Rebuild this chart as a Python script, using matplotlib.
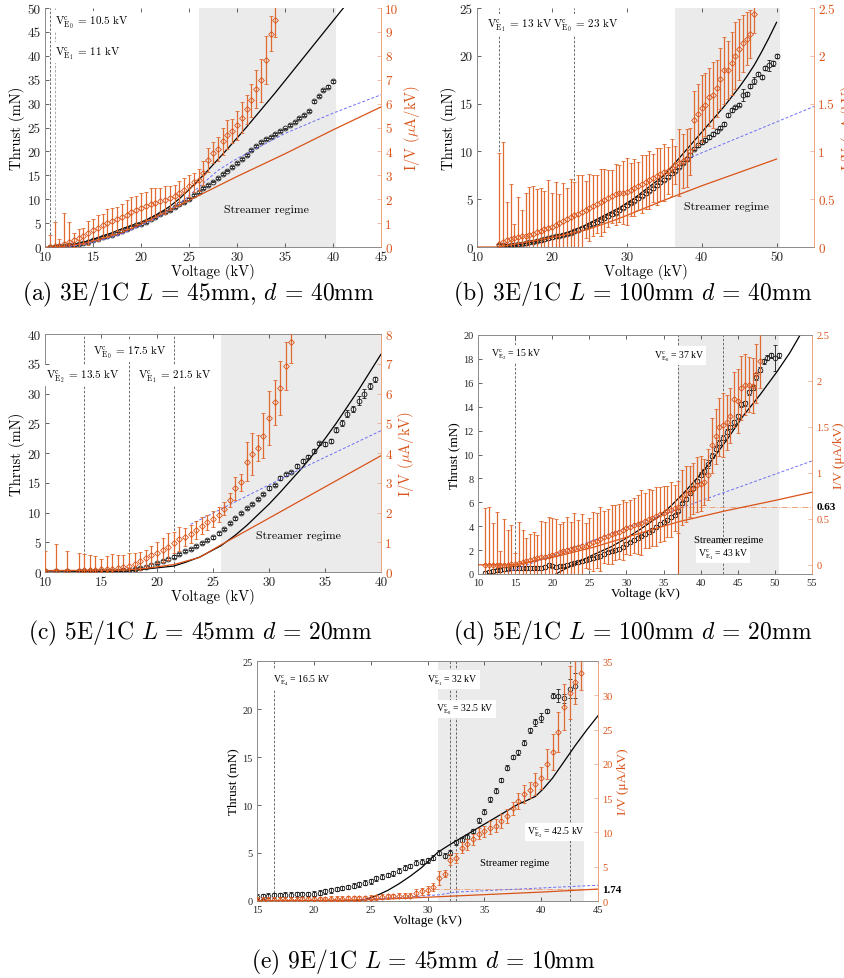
import matplotlib.pyplot as plt
from matplotlib.ticker import FuncFormatter

plt.rcParams['font.family'] = 'cmr10'
plt.rcParams['mathtext.fontset'] = 'cm'
plt.rcParams['axes.formatter.use_mathtext'] = True

ORANGE = '#D95319'
ORANGE_BAR = '#E06A30'
ORANGE_SPINE = '#EBA37E'
BLUE = '#6E6EF5'
SHADE = '#EBEBEB'

# ---------------- (a) 3E/1C L=45mm d=40mm ----------------
a_v_thrust = [10.5, 11, 11.5, 12, 12.5, 13, 13.5, 14, 14.5, 15, 15.5, 16, 16.5, 17, 17.5,
              18, 18.5, 19, 19.5, 20, 20.5, 21, 21.5, 22, 22.5, 23, 23.5, 24, 24.5, 25,
              25.5, 26, 26.5, 27, 27.5, 28, 28.5, 29, 29.5, 30, 30.5, 31, 31.5, 32, 32.5,
              33, 33.5, 34, 34.5, 35, 35.5, 36, 36.5, 37, 37.5, 38, 38.5, 39, 39.5, 40]
a_thrust = [0.1, 0.1, 0.2, 0.3, 0.4, 0.5, 0.7, 0.9, 1.1, 1.4, 1.7, 2.0, 2.3, 2.6, 2.9,
            3.3, 3.7, 4.1, 4.5, 4.9, 5.3, 5.8, 6.3, 6.8, 7.3, 7.8, 8.3, 8.9, 9.5, 10.1,
            10.8, 11.6, 12.3, 13.0, 13.7, 14.4, 15.2, 16.0, 16.7, 17.5, 18.4, 19.3, 20.2, 21.2, 22.0,
            22.5, 23.0, 23.6, 24.2, 24.8, 25.6, 26.2, 27.0, 27.6, 28.5, 30.5, 31.5, 32.8, 33.5, 34.7]
a_thrust_err = [0.2, 0.2, 0.2, 0.2, 0.2, 0.2, 0.2, 0.2, 0.2, 0.2, 0.2, 0.2, 0.2, 0.2, 0.2,
                0.2, 0.2, 0.2, 0.2, 0.2, 0.2, 0.2, 0.2, 0.2, 0.2, 0.2, 0.2, 0.2, 0.2, 0.2,
                0.2, 0.2, 0.2, 0.2, 0.2, 0.2, 0.2, 0.2, 0.2, 0.2, 0.2, 0.2, 0.2, 0.2, 0.2,
                0.2, 0.2, 0.2, 0.2, 0.2, 0.2, 0.2, 0.2, 0.2, 0.2, 0.3, 0.2, 0.2, 0.3, 0.3]
a_v_iv = [10.5, 11, 11.5, 12, 12.5, 13, 13.5, 14, 14.5, 15, 15.5, 16, 16.5, 17, 17.5, 18,
          18.5, 19, 19.5, 20, 20.5, 21, 21.5, 22, 22.5, 23, 23.5, 24, 24.5, 25, 25.5, 26,
          26.5, 27, 27.5, 28, 28.5, 29, 29.5, 30, 30.5, 31, 31.5, 32, 32.5, 33, 33.5, 34]
a_iv = [0.02, 0.03, 0.05, 0.12, 0.2, 0.28, 0.37, 0.46, 0.6, 0.73, 0.8, 0.9, 1.0, 1.1, 1.18, 1.25,
        1.35, 1.45, 1.55, 1.65, 1.72, 1.8, 1.86, 1.92, 1.97, 2.05, 2.15, 2.25, 2.38, 2.55, 2.7, 2.8,
        3.1, 3.63, 3.95, 4.11, 4.42, 4.7, 4.85, 5.09, 5.4, 5.76, 6.14, 6.6, 6.97, 7.81, 8.93, 9.48]
a_iv_err = [0.5, 1.0, 0.3, 1.3, 0.85, 0.3, 0.4, 0.35, 0.5, 0.45, 0.55, 0.5, 0.6, 0.55, 0.5, 0.55,
            0.6, 0.65, 0.6, 0.6, 0.6, 0.65, 0.6, 0.55, 0.6, 0.5, 0.45, 0.5, 0.5, 0.45, 0.4, 0.45,
            0.5, 0.5, 0.45, 0.5, 0.55, 0.6, 0.5, 0.6, 0.65, 0.6, 0.7, 0.8, 0.9, 1.0, 0.75, 0.7]
a_model_v = [11, 12, 13, 14, 15, 16, 17, 18, 19, 20, 21, 22, 23, 24, 25, 26, 27, 28, 29,
             30, 31, 32, 33, 34, 35, 36, 37, 38, 39, 40, 41, 41.5]
a_model_thrust = [0, 0.1, 0.5, 1.0, 1.6, 2.3, 3.0, 3.8, 4.5, 5.2, 6.1, 7.2, 8.5, 10.1, 12.0,
                  14.0, 16.1, 18.3, 20.5, 22.8, 25.1, 27.5, 29.9, 32.3, 34.8, 37.3, 39.8,
                  42.3, 44.8, 47.3, 49.8, 51.0]
a_model_iv_v = [10, 11, 12, 14, 16, 18, 20, 22, 24, 26, 28, 30, 35, 40, 45]
a_model_iv = [0, 0, 0.02, 0.15, 0.35, 0.6, 0.95, 1.35, 1.75, 2.15, 2.55, 2.95, 3.9, 4.9, 5.86]
a_blue_v = [12, 14, 16, 18, 20, 22, 24, 26, 28, 30, 35, 40, 45]
a_blue_iv = [0, 0.1, 0.3, 0.55, 0.9, 1.3, 1.8, 2.5, 3.2, 3.7, 4.75, 5.6, 6.37]
a_onset = [10.5, 11]
a_streamer = [26, 40.3]

# ---------------- (b) 3E/1C L=100mm d=40mm ----------------
b_v_thrust = [13, 13.5, 14, 14.5, 15, 15.5, 16, 16.5, 17, 17.5,
              18, 18.5, 19, 19.5, 20, 20.5, 21, 21.5, 22, 22.5,
              23, 23.5, 24, 24.5, 25, 25.5, 26, 26.5, 27, 27.5,
              28, 28.5, 29, 29.5, 30, 30.5, 31, 31.5, 32, 32.5,
              33, 33.5, 34, 34.5, 35, 35.5, 36, 36.5, 37, 37.5,
              38, 38.5, 39, 39.5, 40, 40.5, 41, 41.5, 42, 42.5,
              43, 43.5, 44, 44.5, 45, 45.5, 46, 46.5, 47, 47.5,
              48, 48.5, 49, 49.5, 50]
b_thrust = [0.2, 0.2, 0.15, 0.2, 0.25, 0.3, 0.35, 0.4, 0.5, 0.55,
            0.65, 0.7, 0.8, 0.9, 1.0, 1.1, 1.2, 1.3, 1.4, 1.5,
            1.65, 1.8, 1.95, 2.1, 2.3, 2.45, 2.6, 2.8, 3.0, 3.2,
            3.4, 3.6, 3.85, 4.1, 4.35, 4.6, 4.85, 5.1, 5.35, 5.6,
            5.9, 6.15, 6.45, 6.75, 7.05, 7.35, 7.7, 8.0, 8.4, 8.8,
            9.2, 9.6, 10.3, 10.7, 11.0, 11.2, 11.5, 11.8, 12.1, 12.5,
            12.9, 13.8, 14.3, 14.6, 14.9, 15.9, 16.0, 16.8, 17.4, 18.1,
            17.8, 18.7, 19.0, 19.2, 20.0]
b_thrust_err = [0.15, 0.15, 0.15, 0.15, 0.15, 0.15, 0.15, 0.15, 0.15, 0.15,
                0.15, 0.15, 0.15, 0.15, 0.15, 0.15, 0.15, 0.15, 0.15, 0.15,
                0.15, 0.15, 0.15, 0.15, 0.15, 0.15, 0.15, 0.15, 0.15, 0.15,
                0.15, 0.15, 0.15, 0.15, 0.15, 0.15, 0.15, 0.15, 0.15, 0.15,
                0.15, 0.15, 0.15, 0.15, 0.15, 0.15, 0.15, 0.15, 0.15, 0.15,
                0.2, 0.2, 0.2, 0.2, 0.2, 0.2, 0.2, 0.2, 0.2, 0.2,
                0.2, 0.2, 0.2, 0.2, 0.2, 0.6, 0.2, 0.2, 0.4, 0.2,
                0.2, 0.2, 0.55, 0.3, 0.2]
b_v_iv = [13, 13.5, 14, 14.5, 15, 15.5, 16, 16.5, 17, 17.5,
          18, 18.5, 19, 19.5, 20, 20.5, 21, 21.5, 22, 22.5,
          23, 23.5, 24, 24.5, 25, 25.5, 26, 26.5, 27, 27.5,
          28, 28.5, 29, 29.5, 30, 30.5, 31, 31.5, 32, 32.5,
          33, 33.5, 34, 34.5, 35, 35.5, 36, 36.5, 37, 37.5,
          38, 38.5, 39, 39.5, 40, 40.5, 41, 41.5, 42, 42.5,
          43, 43.5, 44, 44.5, 45, 45.5, 46, 46.5, 47]
b_iv = [0.03, 0.05, 0.07, 0.08, 0.09, 0.1, 0.11, 0.12, 0.13, 0.14,
        0.16, 0.17, 0.19, 0.2, 0.21, 0.23, 0.25, 0.27, 0.29, 0.31,
        0.33, 0.35, 0.37, 0.39, 0.41, 0.43, 0.45, 0.47, 0.49, 0.51,
        0.53, 0.55, 0.56, 0.57, 0.58, 0.6, 0.62, 0.64, 0.66, 0.68,
        0.7, 0.72, 0.74, 0.76, 0.78, 0.8, 0.83, 0.86, 0.88, 0.9,
        0.93, 1.0, 1.33, 1.39, 1.45, 1.49, 1.57, 1.59, 1.66, 1.76,
        1.85, 1.85, 1.92, 2.0, 2.07, 2.13, 2.18, 2.23, 2.44]
b_iv_err = [0.95, 1.05, 0.4, 0.58, 0.15, 0.42, 0.28, 0.45, 0.5, 0.5,
            0.45, 0.45, 0.4, 0.5, 0.35, 0.45, 0.3, 0.4, 0.33, 0.4,
            0.35, 0.4, 0.38, 0.3, 0.35, 0.32, 0.3, 0.35, 0.33, 0.3,
            0.28, 0.32, 0.3, 0.33, 0.35, 0.28, 0.3, 0.25, 0.3, 0.28,
            0.3, 0.25, 0.3, 0.28, 0.3, 0.25, 0.3, 0.2, 0.35, 0.28,
            0.3, 0.25, 0.3, 0.32, 0.35, 0.33, 0.3, 0.35, 0.3, 0.32,
            0.35, 0.3, 0.33, 0.35, 0.32, 0.3, 0.28, 0.25, 0.2]
b_model_v = [13, 14, 15, 16, 17, 18, 19, 20, 21, 22, 23, 24, 25, 26, 27, 28, 29, 30, 31, 32,
             33, 34, 35, 36, 37, 38, 39, 40, 41, 42, 43, 44, 45, 46, 47, 48, 49, 50]
b_model_thrust = [0, 0.05, 0.15, 0.3, 0.45, 0.6, 0.8, 1.0, 1.25, 1.5, 1.8, 2.1, 2.5, 2.9, 3.3,
                  3.7, 4.1, 4.6, 5.1, 5.7, 6.3, 6.9, 7.5, 8.4, 9.3, 10.2, 11.1, 12.0, 12.9,
                  13.8, 14.7, 15.7, 16.7, 17.8, 19.0, 20.4, 21.9, 23.5]
b_model_iv_v = [10, 13, 15, 18, 20, 23, 25, 28, 30, 35, 40, 45, 50]
b_model_iv = [0, 0, 0.03, 0.07, 0.1, 0.15, 0.19, 0.27, 0.33, 0.49, 0.64, 0.78, 0.92]
b_blue_v = [38, 55]
b_blue_iv = [0.92, 1.47]
b_onset = [13, 23]
b_streamer = [36.4, 50.4]

# ---------------- (c) 5E/1C L=45mm d=20mm ----------------
c_v_thrust = [10, 11, 12, 13, 13.5, 14, 14.5, 15, 15.5, 16, 16.5, 17, 17.5,
              18, 18.5, 19, 19.5, 20, 20.5, 21, 21.5, 22, 22.5,
              23, 23.5, 24, 24.5, 25, 25.5, 26, 26.5, 27, 27.5,
              28, 28.5, 29, 29.5, 30, 30.5, 31, 31.5, 32, 32.5,
              33, 33.5, 34, 34.5, 35, 35.5, 36, 36.5, 37, 37.5,
              38, 38.5, 39, 39.5]
c_thrust = [0.2, 0.2, 0.2, 0.2, 0.2, 0.2, 0.2, 0.2, 0.2, 0.2, 0.2, 0.3, 0.3,
            0.45, 0.6, 0.8, 1.1, 1.5, 1.9, 2.2, 2.6, 3.0, 3.5,
            3.9, 4.4, 4.9, 5.4, 5.8, 6.5, 7.2, 8.2, 9.0, 9.9,
            10.8, 11.4, 12.3, 13.1, 14.1, 14.6, 15.8, 16.4, 16.8, 17.8,
            18.7, 19.4, 20.3, 21.6, 21.5, 22.0, 23.9, 25.0, 26.6, 27.4,
            28.8, 30.0, 31.2, 32.4]
c_thrust_err = [0.2, 0.2, 0.2, 0.2, 0.2, 0.2, 0.2, 0.2, 0.2, 0.2, 0.2, 0.2, 0.2,
                0.2, 0.2, 0.2, 0.2, 0.2, 0.2, 0.2, 0.2, 0.2, 0.2,
                0.2, 0.2, 0.2, 0.2, 0.2, 0.2, 0.2, 0.2, 0.2, 0.2,
                0.2, 0.2, 0.2, 0.2, 0.3, 0.2, 0.3, 0.3, 0.2, 0.3,
                0.3, 0.3, 0.3, 0.3, 0.3, 0.3, 0.4, 0.5, 0.6, 0.5,
                0.7, 0.8, 0.5, 0.4]
c_v_iv = [10, 11, 12, 13, 13.5, 14, 14.5, 15, 15.5, 16, 16.5, 17, 17.5,
          18, 18.5, 19, 19.5, 20, 20.5, 21, 21.5, 22, 22.5,
          23, 23.5, 24, 24.5, 25, 25.5, 26, 26.5, 27, 27.5,
          28, 28.5, 29, 29.5, 30, 30.5, 31, 31.5, 32]
c_iv = [0.05, 0.05, 0.05, 0.05, 0.06, 0.07, 0.08, 0.09, 0.1, 0.11, 0.13, 0.16, 0.2,
        0.28, 0.38, 0.47, 0.56, 0.65, 0.75, 0.85, 0.98, 1.1, 1.18,
        1.27, 1.42, 1.56, 1.67, 1.78, 1.93, 2.12, 2.42, 2.81, 3.01,
        3.71, 3.97, 4.17, 4.58, 5.17, 5.7, 6.18, 6.93, 7.74]
c_iv_err = [0.65, 0.9, 0.65, 0.6, 0.55, 0.5, 0.45, 0.35, 0.45, 0.5, 0.45, 0.4, 0.45,
            0.35, 0.3, 0.28, 0.3, 0.35, 0.4, 0.45, 0.35, 0.4, 0.3,
            0.3, 0.3, 0.28, 0.25, 0.28, 0.25, 0.22, 0.25, 0.4, 0.3,
            0.65, 0.7, 0.45, 0.75, 0.9, 0.75, 0.9, 0.8, 0.7]
c_model_v = [10, 17, 19, 21.5, 22.5, 23.8, 25.7, 27, 28, 29, 30, 31, 32, 33, 34, 35, 36,
             37, 38, 39, 40]
c_model_thrust = [0, 0.1, 0.5, 1.0, 1.6, 2.5, 4.4, 6.2, 7.8, 9.6, 11.4, 13.4, 15.5, 17.6,
                  19.9, 22.4, 25.0, 27.8, 30.6, 33.6, 36.6]
c_model_iv_v = [10, 17, 19, 21.5, 23.8, 25.7, 30, 35, 40]
c_model_iv = [0.05, 0.06, 0.12, 0.25, 0.49, 0.91, 1.81, 2.86, 3.91]
c_blue_v = [23, 32.8, 40]
c_blue_iv = [1.6, 3.46, 4.75]
c_onset = [13.5, 17.5, 21.5]
c_streamer = [25.7, 40]

# ---------------- (d) 5E/1C L=100mm d=20mm ----------------
d_v_thrust = [11, 11.5, 12, 12.5, 13, 13.5, 14, 14.5, 15, 15.5,
              16, 16.5, 17, 17.5, 18, 18.5, 19, 19.5, 20, 20.5,
              21, 21.5, 22, 22.5, 23, 23.5, 24, 24.5, 25, 25.5,
              26, 26.5, 27, 27.5, 28, 28.5, 29, 29.5, 30, 30.5,
              31, 31.5, 32, 32.5, 33, 33.5, 34, 34.5, 35, 35.5,
              36, 36.5, 37, 37.5, 38, 38.5, 39, 39.5, 40, 40.5,
              41, 41.5, 42, 42.5, 43, 43.5, 44, 44.5, 45, 45.5,
              46, 46.5, 47, 47.5, 48, 48.5, 49, 49.5, 50, 50.5]
d_thrust = [0.1, 0.2, 0.25, 0.3, 0.35, 0.4, 0.45, 0.5, 0.5, 0.5,
            0.5, 0.5, 0.5, 0.5, 0.5, 0.5, 0.6, 0.75, 0.7, 0.6,
            0.65, 0.7, 0.75, 0.85, 0.95, 1.0, 1.05, 1.15, 1.25, 1.3,
            1.4, 1.5, 1.65, 1.8, 1.9, 2.0, 2.1, 2.25, 2.5, 2.65,
            2.85, 3.0, 3.15, 3.35, 3.5, 3.7, 3.95, 4.2, 4.35, 4.5,
            4.75, 4.9, 5.3, 5.9, 6.3, 6.8, 7.2, 7.8, 8.3, 8.6,
            9.2, 9.9, 10.5, 11.0, 11.4, 11.9, 12.3, 12.7, 13.2, 14.2,
            14.3, 15.2, 15.6, 16.5, 17.1, 17.8, 18.1, 18.3, 18.1, 18.3]
d_thrust_err = [0.15, 0.15, 0.15, 0.15, 0.15, 0.15, 0.15, 0.15, 0.15, 0.15,
                0.15, 0.15, 0.15, 0.15, 0.15, 0.15, 0.15, 0.15, 0.15, 0.15,
                0.15, 0.15, 0.15, 0.15, 0.15, 0.15, 0.15, 0.15, 0.15, 0.15,
                0.15, 0.15, 0.15, 0.15, 0.15, 0.15, 0.15, 0.15, 0.15, 0.15,
                0.15, 0.15, 0.15, 0.15, 0.15, 0.15, 0.15, 0.15, 0.15, 0.15,
                0.15, 0.15, 0.15, 0.15, 0.15, 0.15, 0.15, 0.15, 0.2, 0.2,
                0.35, 0.2, 0.2, 0.2, 0.2, 0.2, 0.2, 0.2, 0.2, 0.2,
                0.2, 0.2, 0.2, 0.3, 0.2, 0.2, 0.2, 0.2, 1.1, 0.2]
d_v_iv = [11, 11.5, 12, 12.5, 13, 13.5, 14, 14.5, 15, 15.5,
          16, 16.5, 17, 17.5, 18, 18.5, 19, 19.5, 20, 20.5,
          21, 21.5, 22, 22.5, 23, 23.5, 24, 24.5, 25, 25.5,
          26, 26.5, 27, 27.5, 28, 28.5, 29, 29.5, 30, 30.5,
          31, 31.5, 32, 32.5, 33, 33.5, 34, 34.5, 35, 35.5,
          36, 36.5, 37, 37.5, 38, 38.5, 39, 39.5, 40, 40.5,
          41, 41.5, 42, 42.5, 43, 43.5, 44, 44.5, 45, 45.5,
          46, 46.5, 47, 47.5, 48]
d_iv = [0.0, 0.0, 0.0, 0.0, 0.0, 0.0, 0.0, 0.01, 0.01, 0.02,
        0.03, 0.04, 0.05, 0.06, 0.07, 0.08, 0.09, 0.1, 0.11, 0.12,
        0.14, 0.15, 0.16, 0.17, 0.18, 0.19, 0.2, 0.21, 0.23, 0.25,
        0.26, 0.28, 0.3, 0.31, 0.33, 0.35, 0.36, 0.38, 0.4, 0.41,
        0.43, 0.44, 0.46, 0.48, 0.5, 0.51, 0.53, 0.55, 0.56, 0.58,
        0.6, 0.62, 0.63, 0.73, 0.77, 0.8, 0.83, 0.87, 0.88, 0.9,
        0.98, 1.3, 1.4, 1.5, 1.52, 1.55, 1.62, 1.8, 1.78, 1.92,
        1.96, 1.96, 1.95, 2.08, 2.22]
d_iv_err = [0.62, 0.63, 0.45, 0.57, 0.15, 0.5, 0.38, 0.42, 0.12, 0.45,
            0.35, 0.25, 0.28, 0.3, 0.25, 0.4, 0.38, 0.42, 0.4, 0.38,
            0.3, 0.32, 0.36, 0.3, 0.38, 0.3, 0.35, 0.25, 0.28, 0.32,
            0.3, 0.35, 0.28, 0.3, 0.32, 0.3, 0.3, 0.33, 0.28, 0.3,
            0.3, 0.32, 0.35, 0.3, 0.32, 0.3, 0.32, 0.3, 0.3, 0.28,
            0.3, 0.25, 0.28, 0.3, 0.3, 0.28, 0.28, 0.3, 0.3, 0.25,
            0.28, 0.3, 0.3, 0.32, 0.35, 0.3, 0.3, 0.3, 0.35, 0.35,
            0.33, 0.3, 0.3, 0.32, 0.3]
d_model_v = [20.5, 21.5, 23, 25.5, 28, 30, 32, 34.5, 36, 37.8, 39.5, 41.3, 43.5, 45.75, 48,
             50.25, 52, 53.4]
d_model_thrust = [0, 0.35, 0.85, 1.6, 2.3, 3.0, 3.8, 4.88, 5.7, 6.83, 8.0, 9.35, 11.2, 13.25,
                  15.0, 16.9, 18.5, 20.0]
d_model_iv_v = [10, 15, 21, 25.5, 30, 37.1, 43.5, 50, 55]
d_model_iv = [0, 0, 0.1, 0.19, 0.3, 0.47, 0.59, 0.7, 0.79]
d_blue_v = [14, 20, 25, 30, 37, 45, 55]
d_blue_iv = [-0.08, 0.1, 0.25, 0.4, 0.61, 0.84, 1.13]
d_onset = [15, 37, 43]
d_streamer = [37, 50.5]
d_ratio = 0.63

# ---------------- (e) 9E/1C L=45mm d=10mm ----------------
e_v_thrust = [15, 15.5, 16, 16.5, 17, 17.5, 18, 18.5, 19, 19.5,
              20, 20.5, 21, 21.5, 22, 22.5, 23, 23.5, 24, 24.5,
              25, 25.5, 26, 26.5, 27, 27.5, 28, 28.5, 29, 29.5,
              30, 30.5, 31, 31.5, 32, 32.5, 33, 33.5, 34, 34.5,
              35, 35.5, 36, 36.5, 37, 37.5, 38, 38.5, 39, 39.5,
              40, 40.5, 41, 41.5, 42, 42.5, 43]
e_thrust = [0.45, 0.5, 0.55, 0.6, 0.62, 0.65, 0.66, 0.68, 0.7, 0.72,
            0.75, 0.85, 1.0, 1.1, 1.25, 1.35, 1.45, 1.6, 1.75, 1.9,
            2.05, 2.35, 2.55, 2.7, 2.9, 3.15, 3.45, 3.65, 4.0, 4.1,
            4.25, 4.5, 5.05, 4.7, 5.05, 6.1, 6.4, 6.7, 7.3, 8.4,
            9.3, 10.6, 11.5, 12.6, 13.9, 15.0, 15.5, 16.5, 17.8, 18.6,
            19.1, 19.8, 21.4, 21.4, 21.1, 22.1, 22.4]
e_thrust_err = [0.25, 0.25, 0.25, 0.25, 0.25, 0.25, 0.25, 0.25, 0.25, 0.25,
                0.25, 0.25, 0.25, 0.25, 0.25, 0.25, 0.25, 0.25, 0.25, 0.25,
                0.25, 0.25, 0.25, 0.25, 0.25, 0.25, 0.25, 0.25, 0.25, 0.25,
                0.25, 0.25, 0.25, 0.25, 0.25, 0.25, 0.25, 0.25, 0.25, 0.25,
                0.25, 0.25, 0.25, 0.25, 0.25, 0.25, 0.25, 0.25, 0.25, 0.4,
                0.5, 0.25, 0.3, 0.7, 0.5, 1.0, 1.3]
e_v_iv = [15, 15.5, 16, 16.5, 17, 17.5, 18, 18.5, 19, 19.5,
          20, 20.5, 21, 21.5, 22, 22.5, 23, 23.5, 24, 24.5,
          25, 25.5, 26, 26.5, 27, 27.5, 28, 28.5, 29, 29.5,
          30, 30.5, 31, 31.5, 32, 32.5, 33, 33.5, 34, 34.5,
          35, 35.5, 36, 36.5, 37, 37.5, 38, 38.5, 39, 39.5,
          40, 40.5, 41, 41.5, 42, 42.5, 43, 43.5]
e_iv = [0.2, 0.2, 0.2, 0.2, 0.2, 0.2, 0.2, 0.2, 0.22, 0.24,
        0.25, 0.27, 0.3, 0.32, 0.34, 0.36, 0.38, 0.4, 0.42, 0.45,
        0.5, 0.55, 0.62, 0.68, 0.72, 0.76, 0.78, 0.8, 1.2, 1.4,
        1.6, 2.0, 3.4, 4.0, 6.0, 6.3, 7.8, 8.3, 9.0, 9.8,
        10.2, 10.7, 11.0, 11.7, 12.4, 13.5, 14.6, 15.6, 16.2, 17.0,
        18.0, 20.0, 21.7, 24.6, 28.3, 30.4, 31.9, 33.2]
e_iv_err = [0.35, 0.35, 0.35, 0.35, 0.35, 0.35, 0.35, 0.35, 0.35, 0.35,
            0.35, 0.35, 0.35, 0.35, 0.35, 0.35, 0.35, 0.35, 0.35, 0.35,
            0.35, 0.35, 0.35, 0.35, 0.35, 0.35, 0.35, 0.35, 0.5, 0.5,
            0.6, 0.6, 1.0, 0.5, 0.8, 0.7, 0.8, 0.8, 0.8, 0.8,
            0.8, 0.9, 0.9, 1.0, 1.0, 1.0, 1.2, 1.3, 1.2, 1.6,
            1.6, 2.2, 2.6, 2.9, 3.3, 3.8, 3.2, 2.5]
e_model_v = [15, 23.5, 24.5, 25.5, 26.5, 27.5, 28.5, 29.5, 30.9, 32, 33, 34, 35, 36, 37, 38,
             38.7, 39.5, 40.2, 41, 42, 43, 44, 45]
e_model_thrust = [0, 0, 0.15, 0.55, 1.1, 1.8, 2.6, 3.5, 5.07, 5.9, 6.6, 7.3, 8.0, 8.7, 9.4,
                  10.1, 10.45, 10.9, 11.7, 12.8, 14.5, 16.2, 17.8, 19.3]
e_model_iv_v = [15, 24, 28, 32, 36, 40, 45]
e_model_iv = [0.02, 0.15, 0.4, 0.7, 1.0, 1.3, 1.74]
e_blue_v = [24, 28, 31, 32.5, 45]
e_blue_iv = [0.2, 0.55, 0.9, 1.3, 2.3]
e_onset = [16.5, 32, 32.5, 42.5]
e_streamer = [30.9, 43.8]
e_ratio = 1.74
e_ratio_start = 30.5

W, H = 845, 979
fig = plt.figure(figsize=(W / 100, H / 100), dpi=100)
fmt = FuncFormatter(lambda v, p: '%g' % v)


def px_rect(l, r, t, b):
    return [l / W, 1 - b / H, (r - l) / W, (b - t) / H]


def make_panel(box, xlim, ylim, y2lim, xt, yt, y2t, family, fs_tick, fs_lab, iv_label):
    ax = fig.add_axes(px_rect(*box))
    ax2 = ax.twinx()
    ax.set_xlim(xlim)
    ax.set_ylim(ylim)
    ax2.set_ylim(y2lim)
    ax.set_xticks(xt)
    ax.set_yticks(yt)
    ax2.set_yticks(y2t)
    for a in (ax, ax2):
        a.xaxis.set_major_formatter(fmt)
        a.yaxis.set_major_formatter(fmt)
        for s in a.spines.values():
            s.set_linewidth(0.6)
            s.set_color('#8c8c8c')
        a.spines['right'].set_color(ORANGE_SPINE)
    ax.tick_params(direction='in', length=3, width=0.5, labelsize=fs_tick, colors='#262626',
                   top=True, pad=3)
    ax2.tick_params(direction='in', length=3, width=0.5, labelsize=fs_tick, colors=ORANGE,
                    pad=3)
    ax2.tick_params(axis='y', color=ORANGE_SPINE)
    for lab in ax.get_xticklabels() + ax.get_yticklabels() + ax2.get_yticklabels():
        lab.set_fontfamily(family)
    ax.set_xlabel('Voltage (kV)', fontsize=fs_lab, family=family, labelpad=0)
    ax.set_ylabel('Thrust (mN)', fontsize=fs_lab, family=family, labelpad=2)
    ax2.set_ylabel(iv_label, fontsize=fs_lab, family=family, color=ORANGE, labelpad=3)
    return ax, ax2


def draw_data(ax, ax2, vt, t, te, vi, iv, ive, ms=3.5):
    ax.errorbar(vt, t, yerr=te, fmt='o', ms=ms, mfc='none', mec='#1a1a1a', mew=0.6,
                ecolor='#1a1a1a', elinewidth=0.6, capsize=1.2, capthick=0.6, zorder=4)
    ax2.errorbar(vi, iv, yerr=ive, fmt='D', ms=ms * 0.85, mfc='none', mec=ORANGE, mew=0.6,
                 ecolor=ORANGE_BAR, elinewidth=0.9, capsize=1.4, capthick=0.8, zorder=4)


def onset_label(ax2, ax, x, y, sub, val, family, fs, ha='center'):
    ax2.text(x, y, r'$\mathregular{V^c_{E_%s}}$ = %s kV' % (sub, val), transform=ax.transData,
             ha=ha, va='center', fontsize=fs, family=family, zorder=10,
             bbox=dict(facecolor='white', edgecolor='none', pad=1.5))


CM = 'cmr10'
TNR = 'Liberation Serif'
IV_CM = r'I/V ($\mu$A/kV)'
IV_TNR = 'I/V (μA/kV)'
CAP_FS = 17

# ---- (a)
ax, ax2 = make_panel((45, 381, 9, 248), (10, 45), (0, 50), (0, 10), range(10, 46, 5),
                     range(0, 51, 5), range(0, 11), CM, 9.5, 10.5, IV_CM)
ax.spines['top'].set_visible(False)
ax2.spines['top'].set_visible(False)
ax.axvspan(a_streamer[0], a_streamer[1], color=SHADE, lw=0, zorder=0)
ax.axvline(a_onset[0], color='#555555', ls='--', lw=0.6, dashes=(3, 2))
ax.axvline(a_onset[1], color='#999999', ls='--', lw=0.6, dashes=(3, 2))
ax.plot(a_model_v, a_model_thrust, color='k', lw=0.9, zorder=3)
ax2.plot(a_model_iv_v, a_model_iv, color=ORANGE, lw=0.9, zorder=3)
ax2.plot(a_blue_v, a_blue_iv, color=BLUE, lw=0.7, ls='--', dashes=(3, 2), zorder=3)
draw_data(ax, ax2, a_v_thrust, a_thrust, a_thrust_err, a_v_iv, a_iv, a_iv_err)
onset_label(ax2, ax, 11.0, 47.1, '0', '10.5', CM, 8, ha='left')
onset_label(ax2, ax, 11.0, 40.7, '1', '11', CM, 8, ha='left')
ax2.text(33.1, 8.0, 'Streamer regime', transform=ax.transData, ha='center', va='center',
         fontsize=8.5, family=CM)
fig.text(198 / W, 1 - 294 / H, r'(a) 3E/1C $L$ = 45mm, $d$ = 40mm', ha='center', va='center',
         fontsize=CAP_FS, family=CM)

# ---- (b)
ax, ax2 = make_panel((477, 814, 9, 248), (10, 55), (0, 25), (0, 2.5), range(10, 51, 10),
                     range(0, 26, 5), [0, 0.5, 1, 1.5, 2, 2.5], CM, 9.5, 10.5, IV_CM)
ax.spines['top'].set_visible(False)
ax2.spines['top'].set_visible(False)
ax.axvspan(b_streamer[0], b_streamer[1], color=SHADE, lw=0, zorder=0)
for v in b_onset:
    ax.axvline(v, color='#555555', ls='--', lw=0.6, dashes=(3, 2))
ax.plot(b_model_v, b_model_thrust, color='k', lw=0.9, zorder=3)
ax2.plot(b_model_iv_v, b_model_iv, color=ORANGE, lw=0.9, zorder=3)
ax2.plot(b_blue_v, b_blue_iv, color=BLUE, lw=0.7, ls='--', dashes=(3, 2), zorder=3)
draw_data(ax, ax2, b_v_thrust, b_thrust, b_thrust_err, b_v_iv, b_iv, b_iv_err)
onset_label(ax2, ax, 11.3, 23.3, '1', '13', CM, 8, ha='left')
onset_label(ax2, ax, 20.2, 23.3, '0', '23', CM, 8, ha='left')
ax2.text(43.3, 4.3, 'Streamer regime', transform=ax.transData, ha='center', va='center',
         fontsize=8.5, family=CM)
fig.text(633 / W, 1 - 294 / H, r'(b) 3E/1C $L$ = 100mm $d$ = 40mm', ha='center', va='center',
         fontsize=CAP_FS, family=CM)

# ---- (c)
ax, ax2 = make_panel((45, 381, 335, 573), (10, 40), (0, 40), (0, 8), range(10, 41, 5),
                     range(0, 41, 5), range(0, 9), CM, 9.5, 10.5, IV_CM)
ax.axvspan(c_streamer[0], c_streamer[1], color=SHADE, lw=0, zorder=0)
for v in c_onset:
    ax.axvline(v, color='#555555', ls='--', lw=0.6, dashes=(3, 2))
ax.plot(c_model_v, c_model_thrust, color='k', lw=0.9, zorder=3)
ax2.plot(c_model_iv_v, c_model_iv, color=ORANGE, lw=0.9, zorder=3)
ax2.plot(c_blue_v, c_blue_iv, color=BLUE, lw=0.7, ls='--', dashes=(3, 2), zorder=3)
draw_data(ax, ax2, c_v_thrust, c_thrust, c_thrust_err, c_v_iv, c_iv, c_iv_err)
onset_label(ax2, ax, 17.6, 37, '0', '17.5', CM, 8)
onset_label(ax2, ax, 13.4, 33, '2', '13.5', CM, 8)
onset_label(ax2, ax, 21.6, 33, '1', '21.5', CM, 8)
ax2.text(32.6, 6.3, 'Streamer regime', transform=ax.transData, ha='center', va='center',
         fontsize=8.5, family=CM)
fig.text(200 / W, 1 - 633 / H, r'(c) 5E/1C $L$ = 45mm $d$ = 20mm', ha='center', va='center',
         fontsize=CAP_FS, family=CM)

# ---- (d)
ax, ax2 = make_panel((478, 812, 336, 575), (10, 55), (0, 20), (-0.1, 2.5), range(10, 56, 5),
                     range(0, 21, 2), [0, 0.5, 1, 1.5, 2, 2.5], TNR, 7.5, 9.5, IV_TNR)
ax.axvspan(d_streamer[0], d_streamer[1], color=SHADE, lw=0, zorder=0)
for v in d_onset:
    ax.axvline(v, color='#555555', ls='--', lw=0.6, dashes=(3, 2))
ax2.vlines(d_onset[1], -0.1, d_ratio, color=ORANGE, lw=0.8, zorder=3)
ax2.hlines(d_ratio, d_onset[1], 55, color=ORANGE_SPINE, lw=0.7, ls='-.', zorder=3)
ax.plot(d_model_v, d_model_thrust, color='k', lw=0.9, zorder=3)
ax2.plot(d_model_iv_v, d_model_iv, color=ORANGE, lw=0.9, zorder=3)
ax2.plot(d_blue_v, d_blue_iv, color=BLUE, lw=0.7, ls='--', dashes=(3, 2), zorder=3)
draw_data(ax, ax2, d_v_thrust, d_thrust, d_thrust_err, d_v_iv, d_iv, d_iv_err, ms=3.3)
onset_label(ax2, ax, 15.2, 18.4, '2', '15', TNR, 7)
onset_label(ax2, ax, 37.1, 18.3, '0', '37', TNR, 7)
onset_label(ax2, ax, 43.0, 1.7, '1', '43', TNR, 7)
ax2.text(43.7, 2.9, 'Streamer regime', transform=ax.transData, ha='center', va='center',
         fontsize=7.5, family=TNR)
ax2.annotate('%g' % d_ratio, xy=(55, d_ratio), xytext=(3, 0), textcoords='offset points',
             ha='left', va='center', fontsize=8, family=TNR, fontweight='bold',
             annotation_clip=False)
fig.text(633 / W, 1 - 633 / H, r'(d) 5E/1C $L$ = 100mm $d$ = 20mm', ha='center', va='center',
         fontsize=CAP_FS, family=CM)

# ---- (e)
ax, ax2 = make_panel((257, 598, 662, 902), (15, 45), (0, 25), (0, 35), range(15, 46, 5),
                     range(0, 26, 5), range(0, 36, 5), TNR, 7.5, 9.5, IV_TNR)
ax.axvspan(e_streamer[0], e_streamer[1], color=SHADE, lw=0, zorder=0)
for v in e_onset:
    ax.axvline(v, color='#555555', ls='--', lw=0.6, dashes=(3, 2))
ax2.hlines(e_ratio, e_ratio_start, 45, color=ORANGE_SPINE, lw=0.7, ls='-.', zorder=3)
ax.plot(e_model_v, e_model_thrust, color='k', lw=0.9, zorder=3)
ax2.plot(e_model_iv_v, e_model_iv, color=ORANGE, lw=0.9, zorder=3)
ax2.plot(e_blue_v, e_blue_iv, color=BLUE, lw=0.7, ls='--', dashes=(3, 2), zorder=3)
draw_data(ax, ax2, e_v_thrust, e_thrust, e_thrust_err, e_v_iv, e_iv, e_iv_err, ms=3.3)
onset_label(ax2, ax, 16.4, 23.1, '4', '16.5', TNR, 7, ha='left')
onset_label(ax2, ax, 32.2, 23.1, '1', '32', TNR, 7)
onset_label(ax2, ax, 33.3, 20.0, '0', '32.5', TNR, 7)
onset_label(ax2, ax, 41.3, 7.2, '2', '42.5', TNR, 7)
ax2.text(37.7, 4.0, 'Streamer regime', transform=ax.transData, ha='center', va='center',
         fontsize=7.5, family=TNR)
ax2.annotate('%g' % e_ratio, xy=(45, e_ratio), xytext=(3, 0), textcoords='offset points',
             ha='left', va='center', fontsize=8, family=TNR, fontweight='bold',
             annotation_clip=False)
fig.text(423 / W, 1 - 962 / H, r'(e) 9E/1C $L$ = 45mm $d$ = 10mm', ha='center', va='center',
         fontsize=CAP_FS, family=CM)

fig.savefig('out.png', dpi=100)
